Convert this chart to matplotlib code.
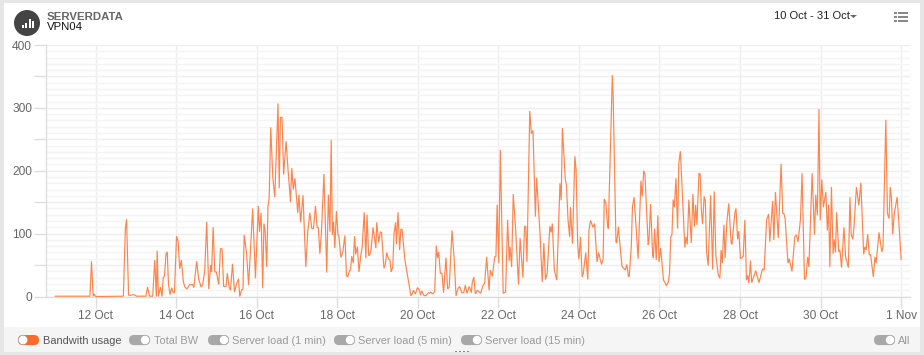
import matplotlib
matplotlib.use("Agg")
import matplotlib.pyplot as plt
from matplotlib.patches import Circle, FancyBboxPatch, Rectangle, Polygon

plt.rcParams['font.family'] = ['Liberation Sans', 'DejaVu Sans']

# time in days of October (32 = 1 Nov), bandwidth
days = [11.0, 11.86, 11.9, 11.94, 11.97, 12.0, 12.69, 12.74, 12.77, 12.82, 12.87, 12.95, 13.02, 13.25, 13.29,
        13.34, 13.42, 13.47, 13.51, 13.53, 13.56, 13.61, 13.65, 13.68, 13.71, 13.75, 13.78, 13.81, 13.85, 13.89,
        13.93, 13.96, 14.01, 14.05, 14.09, 14.13, 14.18, 14.22, 14.27, 14.34, 14.41, 14.44, 14.51, 14.56, 14.62,
        14.66, 14.71, 14.76, 14.81, 14.86, 14.88, 14.92, 14.96, 15.0, 15.06, 15.1, 15.14, 15.18, 15.24, 15.27,
        15.32, 15.35, 15.4, 15.45, 15.5, 15.55, 15.58, 15.63, 15.66, 15.69, 15.75, 15.8, 15.9, 15.97, 16.04,
        16.07, 16.11, 16.15, 16.18, 16.21, 16.25, 16.28, 16.31, 16.35, 16.4, 16.45, 16.53, 16.56, 16.59, 16.63,
        16.67, 16.73, 16.78, 16.84, 16.87, 16.91, 16.95, 17.02, 17.05, 17.09, 17.15, 17.22, 17.27, 17.32, 17.37,
        17.41, 17.46, 17.5, 17.53, 17.57, 17.61, 17.67, 17.74, 17.78, 17.82, 17.85, 17.88, 17.91, 17.94, 17.98,
        18.02, 18.04, 18.09, 18.14, 18.19, 18.23, 18.26, 18.31, 18.33, 18.36, 18.4, 18.43, 18.46, 18.5, 18.54,
        18.58, 18.62, 18.67, 18.71, 18.74, 18.78, 18.81, 18.84, 18.89, 18.96, 18.98, 19.03, 19.07, 19.1, 19.16,
        19.19, 19.23, 19.27, 19.31, 19.34, 19.38, 19.41, 19.45, 19.47, 19.51, 19.55, 19.58, 19.61, 19.68, 19.83,
        19.87, 19.89, 19.94, 19.99, 20.04, 20.07, 20.1, 20.15, 20.2, 20.26, 20.29, 20.32, 20.37, 20.42, 20.46,
        20.49, 20.52, 20.56, 20.6, 20.64, 20.7, 20.74, 20.78, 20.85, 20.9, 20.95, 21.0, 21.04, 21.09, 21.14,
        21.18, 21.22, 21.28, 21.33, 21.35, 21.39, 21.43, 21.48, 21.56, 21.62, 21.66, 21.71, 21.77, 21.8, 21.85,
        21.91, 21.94, 21.97, 22.01, 22.05, 22.12, 22.18, 22.23, 22.27, 22.29, 22.33, 22.37, 22.43, 22.5, 22.54,
        22.61, 22.65, 22.68, 22.71, 22.78, 22.82, 22.86, 22.92, 22.95, 23.03, 23.09, 23.13, 23.17, 23.21, 23.28,
        23.31, 23.34, 23.39, 23.45, 23.53, 23.56, 23.59, 23.66, 23.69, 23.73, 23.77, 23.79, 23.84, 23.9, 23.93,
        23.97, 24.0, 24.04, 24.08, 24.11, 24.17, 24.22, 24.25, 24.29, 24.35, 24.39, 24.45, 24.49, 24.56, 24.6,
        24.63, 24.67, 24.71, 24.73, 24.83, 24.85, 24.92, 24.94, 24.98, 25.02, 25.07, 25.15, 25.19, 25.23, 25.25,
        25.3, 25.33, 25.37, 25.42, 25.47, 25.54, 25.57, 25.61, 25.64, 25.72, 25.74, 25.78, 25.83, 25.85, 25.88,
        25.92, 25.96, 25.99, 26.03, 26.1, 26.13, 26.17, 26.22, 26.25, 26.28, 26.31, 26.34, 26.37, 26.41, 26.45,
        26.48, 26.52, 26.58, 26.63, 26.66, 26.69, 26.73, 26.79, 26.83, 26.87, 26.9, 26.93, 26.98, 27.01, 27.04,
        27.07, 27.11, 27.14, 27.17, 27.21, 27.27, 27.32, 27.36, 27.4, 27.46, 27.5, 27.53, 27.56, 27.6, 27.63,
        27.67, 27.72, 27.78, 27.8, 27.87, 27.9, 27.94, 27.97, 28.01, 28.08, 28.12, 28.16, 28.19, 28.22, 28.26,
        28.29, 28.39, 28.47, 28.56, 28.6, 28.66, 28.71, 28.74, 28.81, 28.84, 28.88, 28.95, 29.02, 29.06, 29.09,
        29.12, 29.19, 29.22, 29.29, 29.36, 29.4, 29.44, 29.5, 29.54, 29.6, 29.64, 29.68, 29.71, 29.79, 29.85,
        29.88, 29.92, 29.96, 29.99, 30.03, 30.07, 30.13, 30.17, 30.2, 30.23, 30.27, 30.31, 30.34, 30.37, 30.4,
        30.45, 30.48, 30.52, 30.58, 30.62, 30.69, 30.73, 30.76, 30.8, 30.83, 30.89, 30.95, 31.0, 31.07, 31.1,
        31.13, 31.17, 31.21, 31.24, 31.31, 31.35, 31.38, 31.45, 31.52, 31.55, 31.62, 31.66, 31.7, 31.73, 31.76,
        31.79, 31.83, 31.9, 31.95, 32.0]
bandwidth = [0.5, 0.5, 56, 0.5, 4, 0, 0.5, 108, 123, 2, 2, 3, 0.5, 0.5, 15,
             0.5, 0.5, 58, 0, 73, 0, 15, 0, 30, 32, 68, 71, 20, 3, 14,
             6, 6, 96, 87, 44, 58, 23, 15, 12, 19, 19, 14, 56, 28, 15,
             19, 41, 119, 12, 50, 39, 110, 39, 39, 19, 76, 76, 16, 16, 37,
             14, 10, 52, 7, 20, 28, 0, 11, 11, 98, 68, 18, 140, 29, 144,
             103, 133, 13, 116, 105, 47, 143, 156, 269, 190, 158, 307, 172, 285, 285,
             194, 247, 201, 150, 204, 170, 188, 133, 162, 118, 161, 47, 105, 133, 108,
             108, 144, 110, 110, 68, 105, 195, 38, 162, 103, 249, 98, 119, 77, 136,
             98, 97, 62, 71, 97, 33, 31, 42, 42, 64, 53, 96, 67, 79, 39,
             63, 79, 134, 61, 130, 65, 67, 74, 110, 77, 118, 86, 103, 102, 45,
             50, 70, 60, 58, 39, 47, 100, 118, 83, 134, 74, 107, 107, 58, 1,
             5, 10, 4, 14, 10, 2, 9, 2, 1, 6, 5, 7, 4, 8, 81,
             61, 71, 37, 37, 6, 62, 12, 15, 105, 63, 1, 13, 16, 6, 6,
             18, 5, 16, 6, 21, 31, 4, 10, 5, 18, 21, 63, 10, 42, 32,
             63, 64, 146, 53, 233, 5, 7, 122, 57, 79, 47, 163, 106, 19, 93,
             30, 111, 112, 55, 295, 259, 264, 127, 189, 106, 23, 85, 27, 36, 112,
             102, 116, 42, 26, 180, 153, 268, 188, 178, 122, 95, 142, 84, 223, 202,
             82, 59, 95, 31, 37, 70, 27, 106, 121, 110, 116, 55, 70, 51, 59,
             155, 149, 114, 108, 352, 320, 87, 85, 111, 82, 48, 42, 51, 32, 32,
             79, 143, 158, 111, 60, 184, 159, 200, 194, 82, 90, 147, 66, 61, 108,
             58, 129, 55, 77, 26, 23, 17, 23, 37, 95, 98, 154, 142, 188, 108,
             212, 231, 148, 78, 95, 83, 154, 85, 163, 111, 146, 114, 196, 195, 138,
             115, 159, 152, 71, 49, 161, 43, 167, 66, 34, 29, 74, 53, 114, 61,
             116, 148, 85, 83, 132, 140, 91, 104, 60, 64, 122, 26, 34, 21, 57,
             22, 41, 22, 44, 42, 122, 131, 87, 152, 90, 166, 93, 211, 132, 132,
             124, 53, 60, 40, 95, 98, 87, 122, 196, 27, 30, 63, 47, 196, 98,
             162, 129, 298, 121, 186, 142, 166, 105, 146, 47, 174, 68, 91, 70, 134,
             71, 74, 46, 110, 63, 46, 158, 98, 91, 111, 174, 145, 181, 67, 79,
             74, 99, 66, 67, 31, 63, 53, 102, 71, 79, 281, 132, 124, 174, 156,
             99, 132, 158, 111, 59]
x_ticks = [12, 14, 16, 18, 20, 22, 24, 26, 28, 30, 32]
x_names = ["12 Oct", "14 Oct", "16 Oct", "18 Oct", "20 Oct", "22 Oct", "24 Oct", "26 Oct", "28 Oct", "30 Oct", "1 Nov"]
y_ticks = [0, 50, 100, 150, 200, 250, 300, 350, 400]
y_names = ["0", "", "100", "", "200", "", "300", "", "400"]
y_minor = [v for v in range(0, 401, 10) if v % 50 != 0]
legend_names = ["Bandwith usage", "Total BW", "Server load (1 min)", "Server load (5 min)", "Server load (15 min)", "All"]

W, H = 924, 355
fig = plt.figure(figsize=(W / 100, H / 100), dpi=100, facecolor="#e6e6e6")

# page furniture in pixel coordinates
bg = fig.add_axes([0, 0, 1, 1], zorder=0)
bg.set_xlim(0, W)
bg.set_ylim(H, 0)
bg.axis("off")
bg.add_patch(Rectangle((4, 3), 916, 349, fc="white", ec="none"))
bg.add_patch(Rectangle((4, 327), 916, 25, fc="#f5f5f5", ec="none"))
bg.add_patch(Circle((27, 23), 13, fc="#444444", ec="none"))
for bx, bh in [(21.5, 3), (25, 5), (28.5, 9), (32, 7)]:
    bg.add_patch(Rectangle((bx, 28 - bh), 2.2, bh, fc="white", ec="none"))
bg.text(47, 16.5, "SERVERDATA", fontsize=8.2, fontweight="bold", color="#666666", va="center")
bg.text(47, 27.5, "VPN04", fontsize=8.2, color="#111111", va="center")
bg.text(774, 15.8, "10 Oct - 31 Oct", fontsize=8, color="#222222", va="center")
bg.add_patch(Polygon([[850, 15], [857, 15], [853.5, 18]], fc="#666666", ec="none"))
for my in [13, 17, 21]:
    bg.add_patch(Rectangle((894, my - 0.7), 3, 1.4, fc="#888888", ec="none"))
    bg.add_patch(Rectangle((898, my - 0.7), 10, 1.4, fc="#888888", ec="none"))

toggle_x = [18, 129, 208, 334, 461, 874]
text_x = [43, 154, 232, 358, 485, 898]
for i, name in enumerate(legend_names):
    on = i == 0
    bg.add_patch(FancyBboxPatch((toggle_x[i] + 5, 335 + 5), 11, 0.1, boxstyle="round,pad=5", fc="#ff6a2b" if on else "#a8a8a8", ec="none"))
    knob = toggle_x[i] + 5 if on else toggle_x[i] + 16
    bg.add_patch(Circle((knob, 340), 4.6, fc="white", ec="#999999", lw=0.4))
    bg.text(text_x[i], 340.5, name, fontsize=7.9, color="#555555" if on else "#9a9a9a", va="center")
for dx in [456, 460, 464, 468]:
    bg.add_patch(Rectangle((dx - 1, 350.5), 1.6, 1.6, fc="#888888", ec="none"))

# chart itself
ax = fig.add_axes([46 / W, 1 - 296.5 / H, (910 - 46) / W, (296.5 - 45) / H], zorder=1)
ax.patch.set_alpha(0)
ax.plot(days, bandwidth, color="#ff7e45", linewidth=0.85, alpha=0.95, solid_joinstyle="miter", zorder=3)
ax.set_xlim(10.77, 32.22)
ax.set_ylim(0, 400)
ax.set_xticks(x_ticks, x_names)
ax.set_yticks(y_ticks, y_names)
ax.set_yticks(y_minor, minor=True)
ax.tick_params(axis="x", which="major", length=8, width=1, color="#dddddd", labelcolor="#666666", labelsize=8.6, pad=2)
ax.tick_params(axis="y", which="major", length=9, width=1, color="#dddddd", labelcolor="#666666", labelsize=8.6, pad=1)
ax.tick_params(axis="y", which="minor", length=0)
ax.grid(True, which="major", color="#eeeeee", linewidth=1)
ax.grid(True, which="minor", axis="y", color="#f4f4f4", linewidth=1)
ax.set_axisbelow(True)
for s in ["top", "right"]:
    ax.spines[s].set_visible(False)
for s in ["left", "bottom"]:
    ax.spines[s].set_color("#dddddd")
    ax.spines[s].set_linewidth(1)

plt.savefig("out.png", dpi=100, facecolor=fig.get_facecolor())
